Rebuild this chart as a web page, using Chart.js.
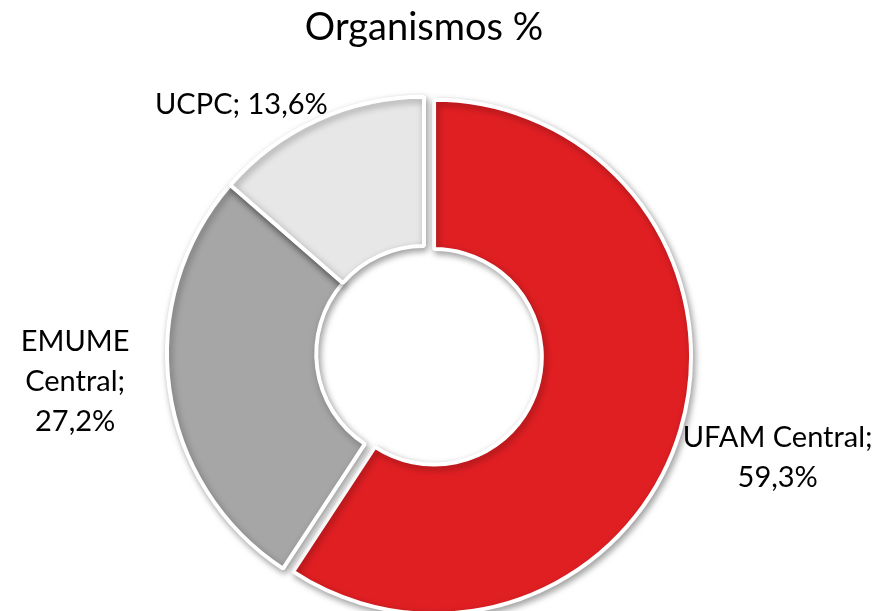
<!DOCTYPE html>
<html>
<head>
<meta charset="utf-8">
<script src="https://cdn.jsdelivr.net/npm/chart.js@4/dist/chart.umd.min.js"></script>
<style>
  html, body { margin: 0; padding: 0; background: #fff; }
  #wrap { width: 878px; height: 611px; }
</style>
</head>
<body>
<div id="wrap"><canvas id="organismosChart"></canvas></div>
<script>
// dados
const categorias = ['UFAM Central', 'EMUME Central', 'UCPC'];
const percentagens = [59.3, 27.2, 13.6];
const cores = ['#e01f23', '#a6a6a6', '#e7e7e7'];
const etiquetas = [['UFAM Central;', '59,3%'], ['EMUME', 'Central;', '27,2%'], ['UCPC; 13,6%']];
const destacadas = [10.5, 0, 0]; // fatia separada (px), so translacao

// separa a fatia sem aumentar o raio (o offset do Chart.js v4 tambem cresce o raio)
const destaquePlugin = {
    id: 'destaque',
    afterUpdate(chart) {
        const meta = chart.getDatasetMeta(0);
        meta.data.forEach(function(arc, i) {
            const d = destacadas[i] || 0;
            if (!d) return;
            const mid = (arc.startAngle + arc.endAngle) / 2;
            arc.x += Math.cos(mid) * d;
            arc.y += Math.sin(mid) * d;
        });
    }
};

// sombra por baixo das fatias
const sombraPlugin = {
    id: 'sombra',
    beforeDatasetsDraw(chart) {
        const ctx = chart.ctx;
        ctx.save();
        ctx.shadowColor = 'rgba(0,0,0,0.35)';
        ctx.shadowBlur = 7;
        ctx.shadowOffsetX = 2;
        ctx.shadowOffsetY = 3;
    },
    afterDatasetsDraw(chart) {
        chart.ctx.restore();
    }
};

// etiquetas fora do anel (tipo Excel)
const etiquetasPlugin = {
    id: 'etiquetas',
    afterDatasetsDraw(chart, args, opts) {
        const ctx = chart.ctx;
        const meta = chart.getDatasetMeta(0);
        ctx.save();
        ctx.font = opts.font;
        ctx.fillStyle = '#000';
        ctx.textAlign = 'center';
        ctx.textBaseline = 'middle';
        meta.data.forEach(function(arc, i) {
            const p = arc.getProps(['x', 'y', 'startAngle', 'endAngle', 'outerRadius'], true);
            const mid = (p.startAngle + p.endAngle) / 2;
            const dx = Math.cos(mid), dy = Math.sin(mid);
            const linhas = etiquetas[i];
            let w = 0;
            linhas.forEach(l => { w = Math.max(w, ctx.measureText(l).width); });
            const h = linhas.length * opts.lineHeight;
            const r = p.outerRadius + opts.gap;
            const ax = p.x + dx * r, ay = p.y + dy * r;
            const nudge = opts.nudge[i] || [0, 0];
            const cx = ax + Math.sign(dx) * w / 2 + nudge[0];
            const cy = ay + dy * h / 2 + nudge[1];
            linhas.forEach(function(l, k) {
                ctx.fillText(l, cx, cy - h / 2 + opts.lineHeight * (k + 0.5));
            });
        });
        ctx.restore();
    }
};

const ctx = document.getElementById('organismosChart').getContext('2d');
const organismosChart = new Chart(ctx, {
    type: 'doughnut',
    data: {
        labels: categorias,
        datasets: [{
            data: percentagens,
            backgroundColor: cores,
            borderColor: '#ffffff',
            borderWidth: 4,
            offset: 0,
            hoverOffset: 0
        }]
    },
    options: {
        responsive: true,
        maintainAspectRatio: false,
        animation: false,
        events: [],
        radius: 257,
        cutout: 107,
        layout: {
            padding: { left: 0, right: 30, top: 0, bottom: 0 }
        },
        plugins: {
            legend: { display: false },
            tooltip: { enabled: false },
            title: {
                display: true,
                text: 'Organismos %',
                color: '#000',
                font: { family: 'Lato', size: 38, weight: 'normal' },
                padding: { top: 5, bottom: 46 }
            },
            etiquetas: {
                font: '29px Lato',
                lineHeight: 40,
                gap: 14,
                nudge: [[-11, 12], [-26, -17], [16, 16]]
            }
        }
    },
    plugins: [destaquePlugin, sombraPlugin, etiquetasPlugin]
});
</script>
</body>
</html>
